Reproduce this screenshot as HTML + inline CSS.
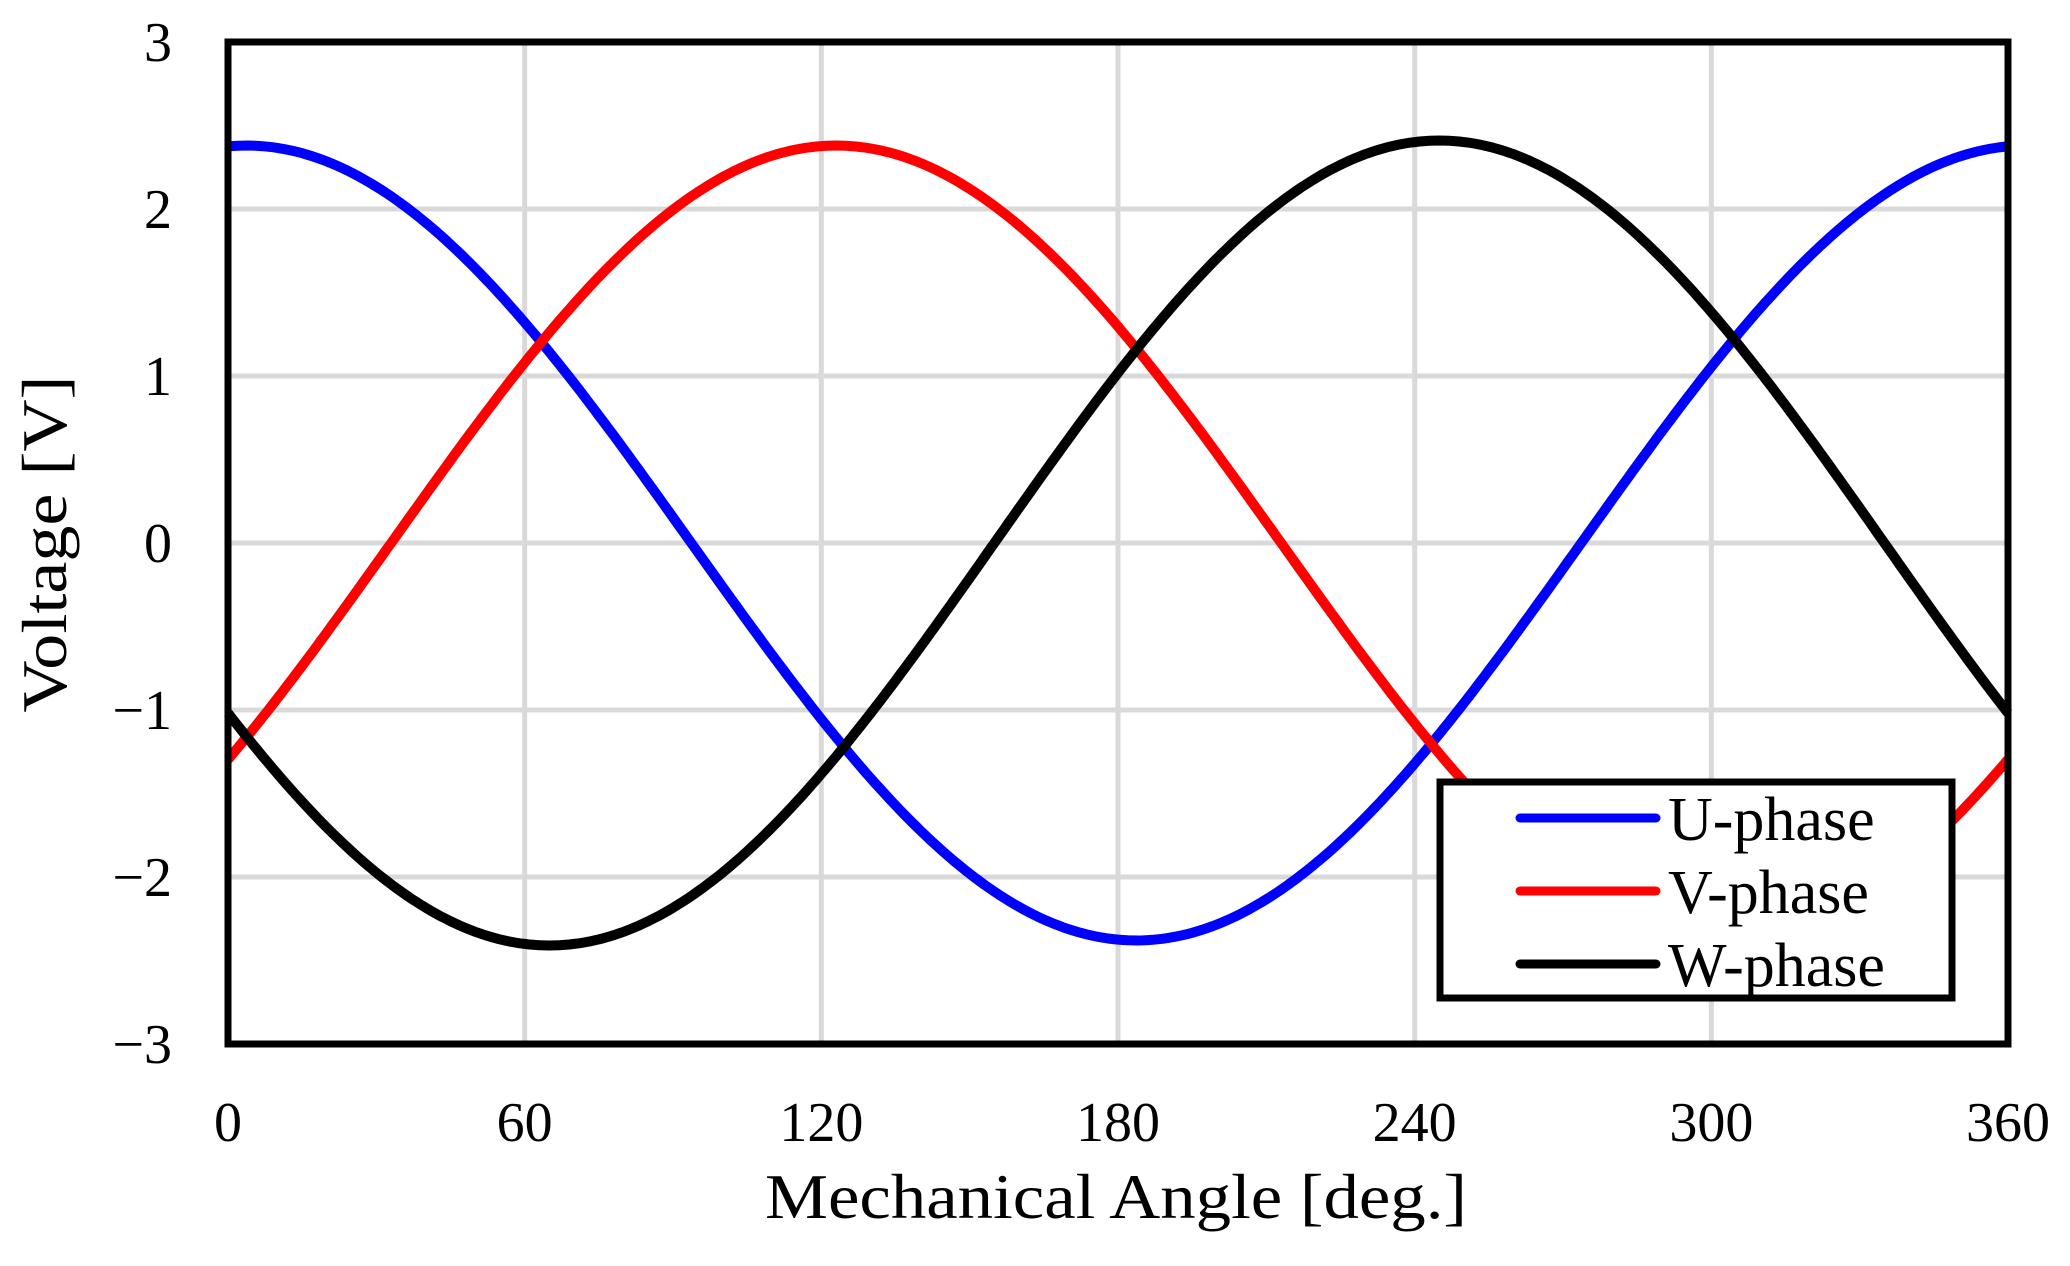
<!DOCTYPE html>
<html><head><meta charset="utf-8"><style>html,body{margin:0;padding:0;background:#fff}svg{display:block}</style></head>
<body>
<svg id="s" width="2070" height="1266" viewBox="0 0 2070 1266" xmlns="http://www.w3.org/2000/svg" font-family="Liberation Serif, serif">
<g id="grid" stroke="#d9d9d9" stroke-width="5"></g>
<g id="curves" fill="none" stroke-width="10" stroke-linejoin="round"></g>
<rect x="228" y="42" width="1780" height="1002" fill="none" stroke="#000" stroke-width="7"/>
<g font-size="56" fill="#000" text-anchor="end" id="ylab"></g>
<g font-size="56" fill="#000" text-anchor="middle" id="xlab"></g>
<text x="1116" y="1218" font-size="64" text-anchor="middle" textLength="702" lengthAdjust="spacingAndGlyphs">Mechanical Angle [deg.]</text>
<text transform="translate(66,544) rotate(-90)" font-size="64" text-anchor="middle" textLength="337" lengthAdjust="spacingAndGlyphs">Voltage [V]</text>
<rect x="1440" y="782" width="512" height="216" fill="#fff" stroke="#000" stroke-width="7"/>
<g stroke-width="9" stroke-linecap="round">
<line x1="1520" y1="818" x2="1656" y2="818" stroke="#0000ff"/>
<line x1="1520" y1="891" x2="1656" y2="891" stroke="#ff0000"/>
<line x1="1520" y1="964" x2="1656" y2="964" stroke="#000"/>
</g>
<g font-size="62" fill="#000">
<text x="1668" y="840">U-phase</text>
<text x="1668" y="913">V-phase</text>
<text x="1668" y="986">W-phase</text>
</g>
</svg>
<script>
var L=228,R=2008,T=42,B=1044,ns="http://www.w3.org/2000/svg";
function X(a){return L+(R-L)*a/360}function Y(v){return T+(B-T)*(3-v)/6}
var g=document.getElementById('grid'),yl=document.getElementById('ylab'),xl=document.getElementById('xlab');
for(var a=60;a<360;a+=60){var l=document.createElementNS(ns,'line');l.setAttribute('x1',X(a));l.setAttribute('x2',X(a));l.setAttribute('y1',T);l.setAttribute('y2',B);g.appendChild(l);}
for(var v=-2;v<=2;v++){var l=document.createElementNS(ns,'line');l.setAttribute('x1',L);l.setAttribute('x2',R);l.setAttribute('y1',Y(v));l.setAttribute('y2',Y(v));g.appendChild(l);}
for(var v=-3;v<=3;v++){var t=document.createElementNS(ns,'text');t.setAttribute('x',172);t.setAttribute('y',Y(v)+19);t.textContent=(v<0?'\u2212'+(-v):''+v);yl.appendChild(t);}
for(var a=0;a<=360;a+=60){var t=document.createElementNS(ns,'text');t.setAttribute('x',X(a));t.setAttribute('y',1141);t.textContent=a;xl.appendChild(t);}
var c=document.getElementById('curves');
[[3.7,'#0000ff',2.38],[123,'#ff0000',2.38],[245,'#000',2.41]].forEach(function(p){
 var d='';for(var a=0;a<=360;a+=1){var v=p[2]*Math.cos((a-p[0])*Math.PI/180);d+=(a?'L':'M')+X(a).toFixed(1)+','+Y(v).toFixed(1);}
 var e=document.createElementNS(ns,'path');e.setAttribute('d',d);e.setAttribute('stroke',p[1]);c.appendChild(e);});
</script>
</body></html>
